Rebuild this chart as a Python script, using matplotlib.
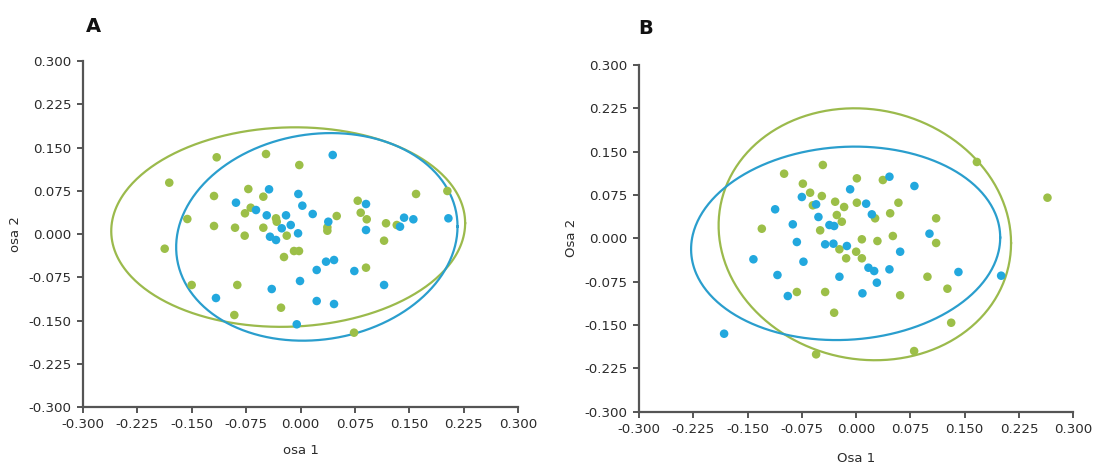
import numpy as np
import matplotlib
matplotlib.use("Agg")
import matplotlib.pyplot as plt

plt.rcParams['font.family'] = ['DejaVu Sans']
plt.rcParams['axes.unicode_minus'] = False

GREEN = '#9CBF48'
BLUE = '#22A8DE'
GREEN_LINE = '#9BBA4C'
BLUE_LINE = '#2A9ECD'
AXIS_COLOR = '#555555'

# Panel A ordination scores
a_green_x = [-0.1156, -0.0476, -0.0017, -0.1810, -0.0720, -0.1193, -0.0513, -0.0766, -0.0687,
             -0.1561, -0.0338, -0.0328, -0.1193, -0.0903, -0.0513, -0.0770, -0.0190, -0.1873,
             -0.0090, -0.0021, -0.0228, -0.1501, -0.0872, -0.0269, -0.0913, 0.1593, 0.2025,
             0.0789, 0.0830, 0.0499, 0.0913, 0.1179, 0.1327, 0.0370, 0.0370, 0.1152, 0.0903,
             0.0738]
a_green_y = [0.1330, 0.1387, 0.1196, 0.0890, 0.0780, 0.0659, 0.0647, 0.0359, 0.0456,
             0.0260, 0.0272, 0.0213, 0.0139, 0.0109, 0.0109, -0.0029, -0.0029, -0.0255,
             -0.0295, -0.0295, -0.0399, -0.0884, -0.0884, -0.1278, -0.1405, 0.0694, 0.0746,
             0.0577, 0.0369, 0.0312, 0.0255, 0.0186, 0.0156, 0.0116, 0.0057, -0.0116, -0.0584,
             -0.1711]
a_blue_x = [-0.0434, -0.0030, -0.0890, 0.0025, -0.0614, 0.0168, -0.0466, -0.0200, -0.0259,
            -0.0135, -0.0034, -0.0421, -0.0338, 0.0223, -0.0007, -0.0397, 0.0223, -0.1166,
            -0.0052, 0.0444, 0.0903, 0.0383, 0.0903, 0.1428, 0.1556, 0.1372, 0.2039, 0.0352,
            0.0462, 0.0742, 0.1152, 0.0462]
a_blue_y = [0.0775, 0.0694, 0.0543, 0.0491, 0.0416, 0.0347, 0.0324, 0.0324, 0.0099,
            0.0156, 0.0012, -0.0047, -0.0104, -0.0624, -0.0815, -0.0954, -0.1162, -0.1110,
            -0.1566, 0.1370, 0.0520, 0.0213, 0.0069, 0.0283, 0.0255, 0.0127, 0.0272, -0.0480,
            -0.0451, -0.0642, -0.0884, -0.1214]

# Panel B ordination scores
b_green_x = [-0.0460, -0.0995, 0.0010, -0.0736, -0.0636, -0.0474, -0.0290, 0.0010, -0.0598,
             -0.0166, -0.0267, -0.0198, -0.1303, -0.0497, 0.0079, 0.0294, -0.0231, 0.0000,
             -0.0138, 0.0079, -0.0819, -0.0428, -0.0304, -0.0553, 0.1668, 0.2643, 0.0369,
             0.0584, 0.0470, 0.1105, 0.0262, 0.0507, 0.1105, 0.0985, 0.1261, 0.0608, 0.1313,
             0.0801]
b_green_y = [0.1269, 0.1118, 0.1038, 0.0945, 0.0789, 0.0732, 0.0633, 0.0616, 0.0571,
             0.0542, 0.0403, 0.0287, 0.0166, 0.0138, -0.0017, -0.0047, -0.0190, -0.0232,
             -0.0346, -0.0346, -0.0929, -0.0929, -0.1288, -0.2008, 0.1321, 0.0703, 0.1009,
             0.0616, 0.0433, 0.0346, 0.0346, 0.0040, -0.0081, -0.0665, -0.0872, -0.0986, -0.1461,
             -0.1951]
b_blue_x = [-0.0083, -0.0750, -0.0553, 0.0138, -0.1119, 0.0217, -0.0521, -0.0875, -0.0369,
            -0.0304, -0.0819, -0.0428, -0.0314, -0.0128, -0.1419, -0.0728, 0.0170, 0.0249,
            -0.1087, -0.0231, 0.0286, -0.0944, 0.0087, -0.1824, 0.0460, 0.0805, 0.1013, 0.0608,
            0.0460, 0.1413, 0.2003]
b_blue_y = [0.0848, 0.0715, 0.0588, 0.0599, 0.0502, 0.0415, 0.0369, 0.0242, 0.0230,
            0.0213, -0.0064, -0.0104, -0.0093, -0.0133, -0.0363, -0.0405, -0.0509, -0.0566,
            -0.0635, -0.0665, -0.0768, -0.0999, -0.0952, -0.1651, 0.1066, 0.0905, 0.0080, -0.0232,
            -0.0537, -0.0583, -0.0647]

# Confidence ellipses: centre x, centre y, half-extent x, half-extent y, correlation
a_green_ellipse = (-0.017, 0.012, 0.244, 0.173, 0.04)
a_blue_ellipse = (0.0225, -0.005, 0.194, 0.180, 0.10)
b_green_ellipse = (0.012, 0.007, 0.202, 0.218, -0.07)
b_blue_ellipse = (-0.0145, -0.0087, 0.2135, 0.1674, 0.06)

ticks = [-0.300, -0.225, -0.150, -0.075, 0.000, 0.075, 0.150, 0.225, 0.300]
tick_labels = ['%.3f' % t for t in ticks]


def draw_ellipse(ax, params, color):
    cx, cy, sx, sy, rho = params
    cov = np.array([[sx * sx, rho * sx * sy], [rho * sx * sy, sy * sy]])
    L = np.linalg.cholesky(cov)
    t = np.linspace(0, 2 * np.pi, 400)
    pts = L @ np.vstack([np.cos(t), np.sin(t)])
    ax.plot(cx + pts[0], cy + pts[1], color=color, lw=1.6, zorder=2)


def style_axes(ax, xlabel, ylabel, xpad):
    ax.set_xlim(-0.3, 0.3)
    ax.set_ylim(-0.3, 0.3)
    ax.set_xticks(ticks)
    ax.set_xticklabels(tick_labels)
    ax.set_yticks(ticks)
    ax.set_yticklabels(tick_labels)
    for s in ('top', 'right'):
        ax.spines[s].set_visible(False)
    for s in ('left', 'bottom'):
        ax.spines[s].set_color(AXIS_COLOR)
        ax.spines[s].set_linewidth(1.6)
    ax.tick_params(direction='out', length=4.5, width=1.4, color=AXIS_COLOR,
                   labelsize=9.6, labelcolor='#2b2b2b', pad=3.5)
    ax.set_xlabel(xlabel, fontsize=9.5, color='#2b2b2b', labelpad=xpad)
    ax.set_ylabel(ylabel, fontsize=9.5, color='#2b2b2b', labelpad=5)


fig = plt.figure(figsize=(10.96, 4.66), dpi=100)
ax_a = fig.add_axes([0.0757, 0.1266, 0.397, 0.7425])
ax_b = fig.add_axes([0.583, 0.1166, 0.3963, 0.744])

for ax, gx, gy, bx, by, ge, be in (
        (ax_a, a_green_x, a_green_y, a_blue_x, a_blue_y, a_green_ellipse, a_blue_ellipse),
        (ax_b, b_green_x, b_green_y, b_blue_x, b_blue_y, b_green_ellipse, b_blue_ellipse)):
    draw_ellipse(ax, ge, GREEN_LINE)
    draw_ellipse(ax, be, BLUE_LINE)
    ax.scatter(gx, gy, s=38, color=GREEN, edgecolors='none', zorder=3)
    ax.scatter(bx, by, s=38, color=BLUE, edgecolors='none', zorder=3)

style_axes(ax_a, 'osa 1', 'osa 2', 9)
style_axes(ax_b, 'Osa 1', 'Osa 2', 12)

fig.text(93 / 1096, 1 - 26 / 466, 'A', fontsize=14, fontweight='bold',
         ha='center', va='center', color='#111111')
fig.text(646 / 1096, 1 - 29 / 466, 'B', fontsize=14, fontweight='bold',
         ha='center', va='center', color='#111111')

fig.savefig('out.png', dpi=100, facecolor='white')
